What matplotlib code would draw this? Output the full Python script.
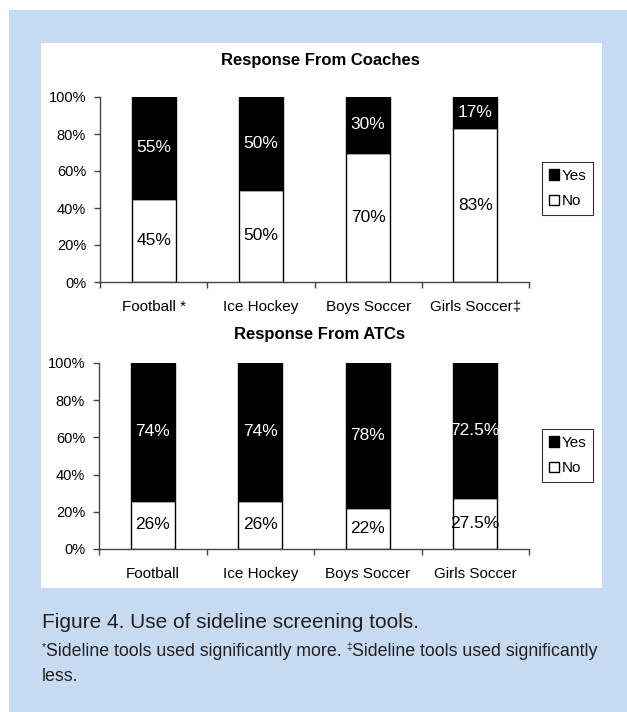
import matplotlib
matplotlib.use("Agg")
import matplotlib.pyplot as plt
from matplotlib.patches import Rectangle, Patch
import numpy as np

categories_coaches = ["Football *", "Ice Hockey", "Boys Soccer", "Girls Soccer\u2021"]
categories_atcs = ["Football", "Ice Hockey", "Boys Soccer", "Girls Soccer"]
coaches_no = [45, 50, 70, 83]
coaches_yes = [55, 50, 30, 17]
coaches_no_labels = ["45%", "50%", "70%", "83%"]
coaches_yes_labels = ["55%", "50%", "30%", "17%"]
atcs_no = [26, 26, 22, 27.5]
atcs_yes = [74, 74, 78, 72.5]
atcs_no_labels = ["26%", "26%", "22%", "27.5%"]
atcs_yes_labels = ["74%", "74%", "78%", "72.5%"]
y_ticks = [0, 20, 40, 60, 80, 100]
y_tick_labels = ["0%", "20%", "40%", "60%", "80%", "100%"]

W, H = 627, 712
BLUE = "#c6dbf1"
CAP = "#231f20"
SANS = ["Liberation Sans", "DejaVu Sans"]
NARROW = ["Liberation Sans Narrow", "Liberation Sans", "DejaVu Sans"]

fig = plt.figure(figsize=(W / 100, H / 100), dpi=100)
fig.patch.set_facecolor("white")


def fx(px):
    return px / W


def fy(py):
    return 1 - py / H


fig.add_artist(Rectangle((fx(9), 0), fx(W - 9), fy(10), transform=fig.transFigure,
                         facecolor=BLUE, edgecolor="none", zorder=0))
fig.add_artist(Rectangle((fx(41), fy(588)), fx(602 - 41), (588 - 43) / H,
                         transform=fig.transFigure, facecolor="white",
                         edgecolor="none", zorder=0))


def draw_panel(rect, title, cats, no, yes, no_lab, yes_lab, title_y, leg_xy):
    ax = fig.add_axes(rect)
    ax.set_facecolor("none")
    x = np.arange(len(cats)) + 0.5
    w = 0.41
    ax.bar(x, no, width=w, color="white", edgecolor="black", linewidth=1.0, zorder=2)
    ax.bar(x, yes, width=w, bottom=no, color="black", edgecolor="black",
           linewidth=1.0, zorder=2)
    for xi, n, yv, nl, yl in zip(x, no, yes, no_lab, yes_lab):
        ax.text(xi, n / 2, nl, ha="center", va="center", fontsize=12.5,
                color="black", family=SANS, zorder=3)
        ax.text(xi, n + yv / 2, yl, ha="center", va="center", fontsize=12.5,
                color="white", family=SANS, zorder=3)
    ax.set_xlim(0, len(cats))
    ax.set_ylim(0, 100)
    ax.set_yticks(y_ticks)
    ax.set_yticklabels(y_tick_labels, family=SANS, fontsize=10.5)
    ax.set_xticks(x)
    ax.set_xticklabels(cats, family=SANS, fontsize=11)
    ax.set_xticks(np.arange(len(cats) + 1), minor=True)
    ax.tick_params(axis="x", which="major", length=0, pad=13)
    ax.tick_params(axis="x", which="minor", length=4, width=1, color="#444444",
                   direction="out")
    ax.tick_params(axis="y", length=4, width=1, color="#444444", pad=6)
    for s in ["top", "right"]:
        ax.spines[s].set_visible(False)
    for s in ["left", "bottom"]:
        ax.spines[s].set_color("#444444")
        ax.spines[s].set_linewidth(1)
    fig.text(fx(320), fy(title_y), title, ha="center", va="center",
             fontsize=12, fontweight="bold", family=SANS)
    handles = [Patch(facecolor="black", edgecolor="black", label="Yes"),
               Patch(facecolor="white", edgecolor="black", label="No")]
    leg = ax.legend(handles=handles, loc="upper left",
                    bbox_to_anchor=(fx(leg_xy[0]), fy(leg_xy[1])),
                    bbox_transform=fig.transFigure,
                    prop={"family": SANS, "size": 11}, frameon=True, fancybox=False,
                    handlelength=0.65, handleheight=0.65, handletextpad=0.2,
                    borderpad=0.45, labelspacing=0.75, borderaxespad=0)
    leg.get_frame().set_edgecolor("black")
    leg.get_frame().set_linewidth(0.8)
    return ax, leg


rect_top = [fx(100), fy(282), fx(529 - 100), (282 - 97) / H]
rect_bot = [fx(99), fy(549), fx(529 - 99), (549 - 363) / H]
ax1, leg1 = draw_panel(rect_top, "Response From Coaches", categories_coaches,
                       coaches_no, coaches_yes, coaches_no_labels, coaches_yes_labels,
                       60, (542, 162))
ax2, leg2 = draw_panel(rect_bot, "Response From ATCs", categories_atcs,
                       atcs_no, atcs_yes, atcs_no_labels, atcs_yes_labels,
                       335, (542, 429))

# caption
fig.text(fx(42), fy(628), "Figure 4. Use of sideline screening tools.",
         fontsize=15, family=NARROW, color=CAP, va="baseline", ha="left")

renderer = fig.canvas.get_renderer()
xpos = 42
parts = [("*", True), ("Sideline tools used significantly more. ", False),
         ("\u2021", True), ("Sideline tools used significantly", False)]
for txt, sup in parts:
    if sup:
        t = fig.text(fx(xpos), fy(650), txt, fontsize=7.5, family=NARROW,
                     color=CAP, va="baseline", ha="left")
    else:
        t = fig.text(fx(xpos), fy(656), txt, fontsize=12.8, family=NARROW,
                     color=CAP, va="baseline", ha="left")
    bb = t.get_window_extent(renderer=renderer)
    xpos += bb.width
fig.text(fx(42), fy(681), "less.", fontsize=12.8, family=NARROW, color=CAP,
         va="baseline", ha="left")

fig.savefig("out.png", dpi=100)
